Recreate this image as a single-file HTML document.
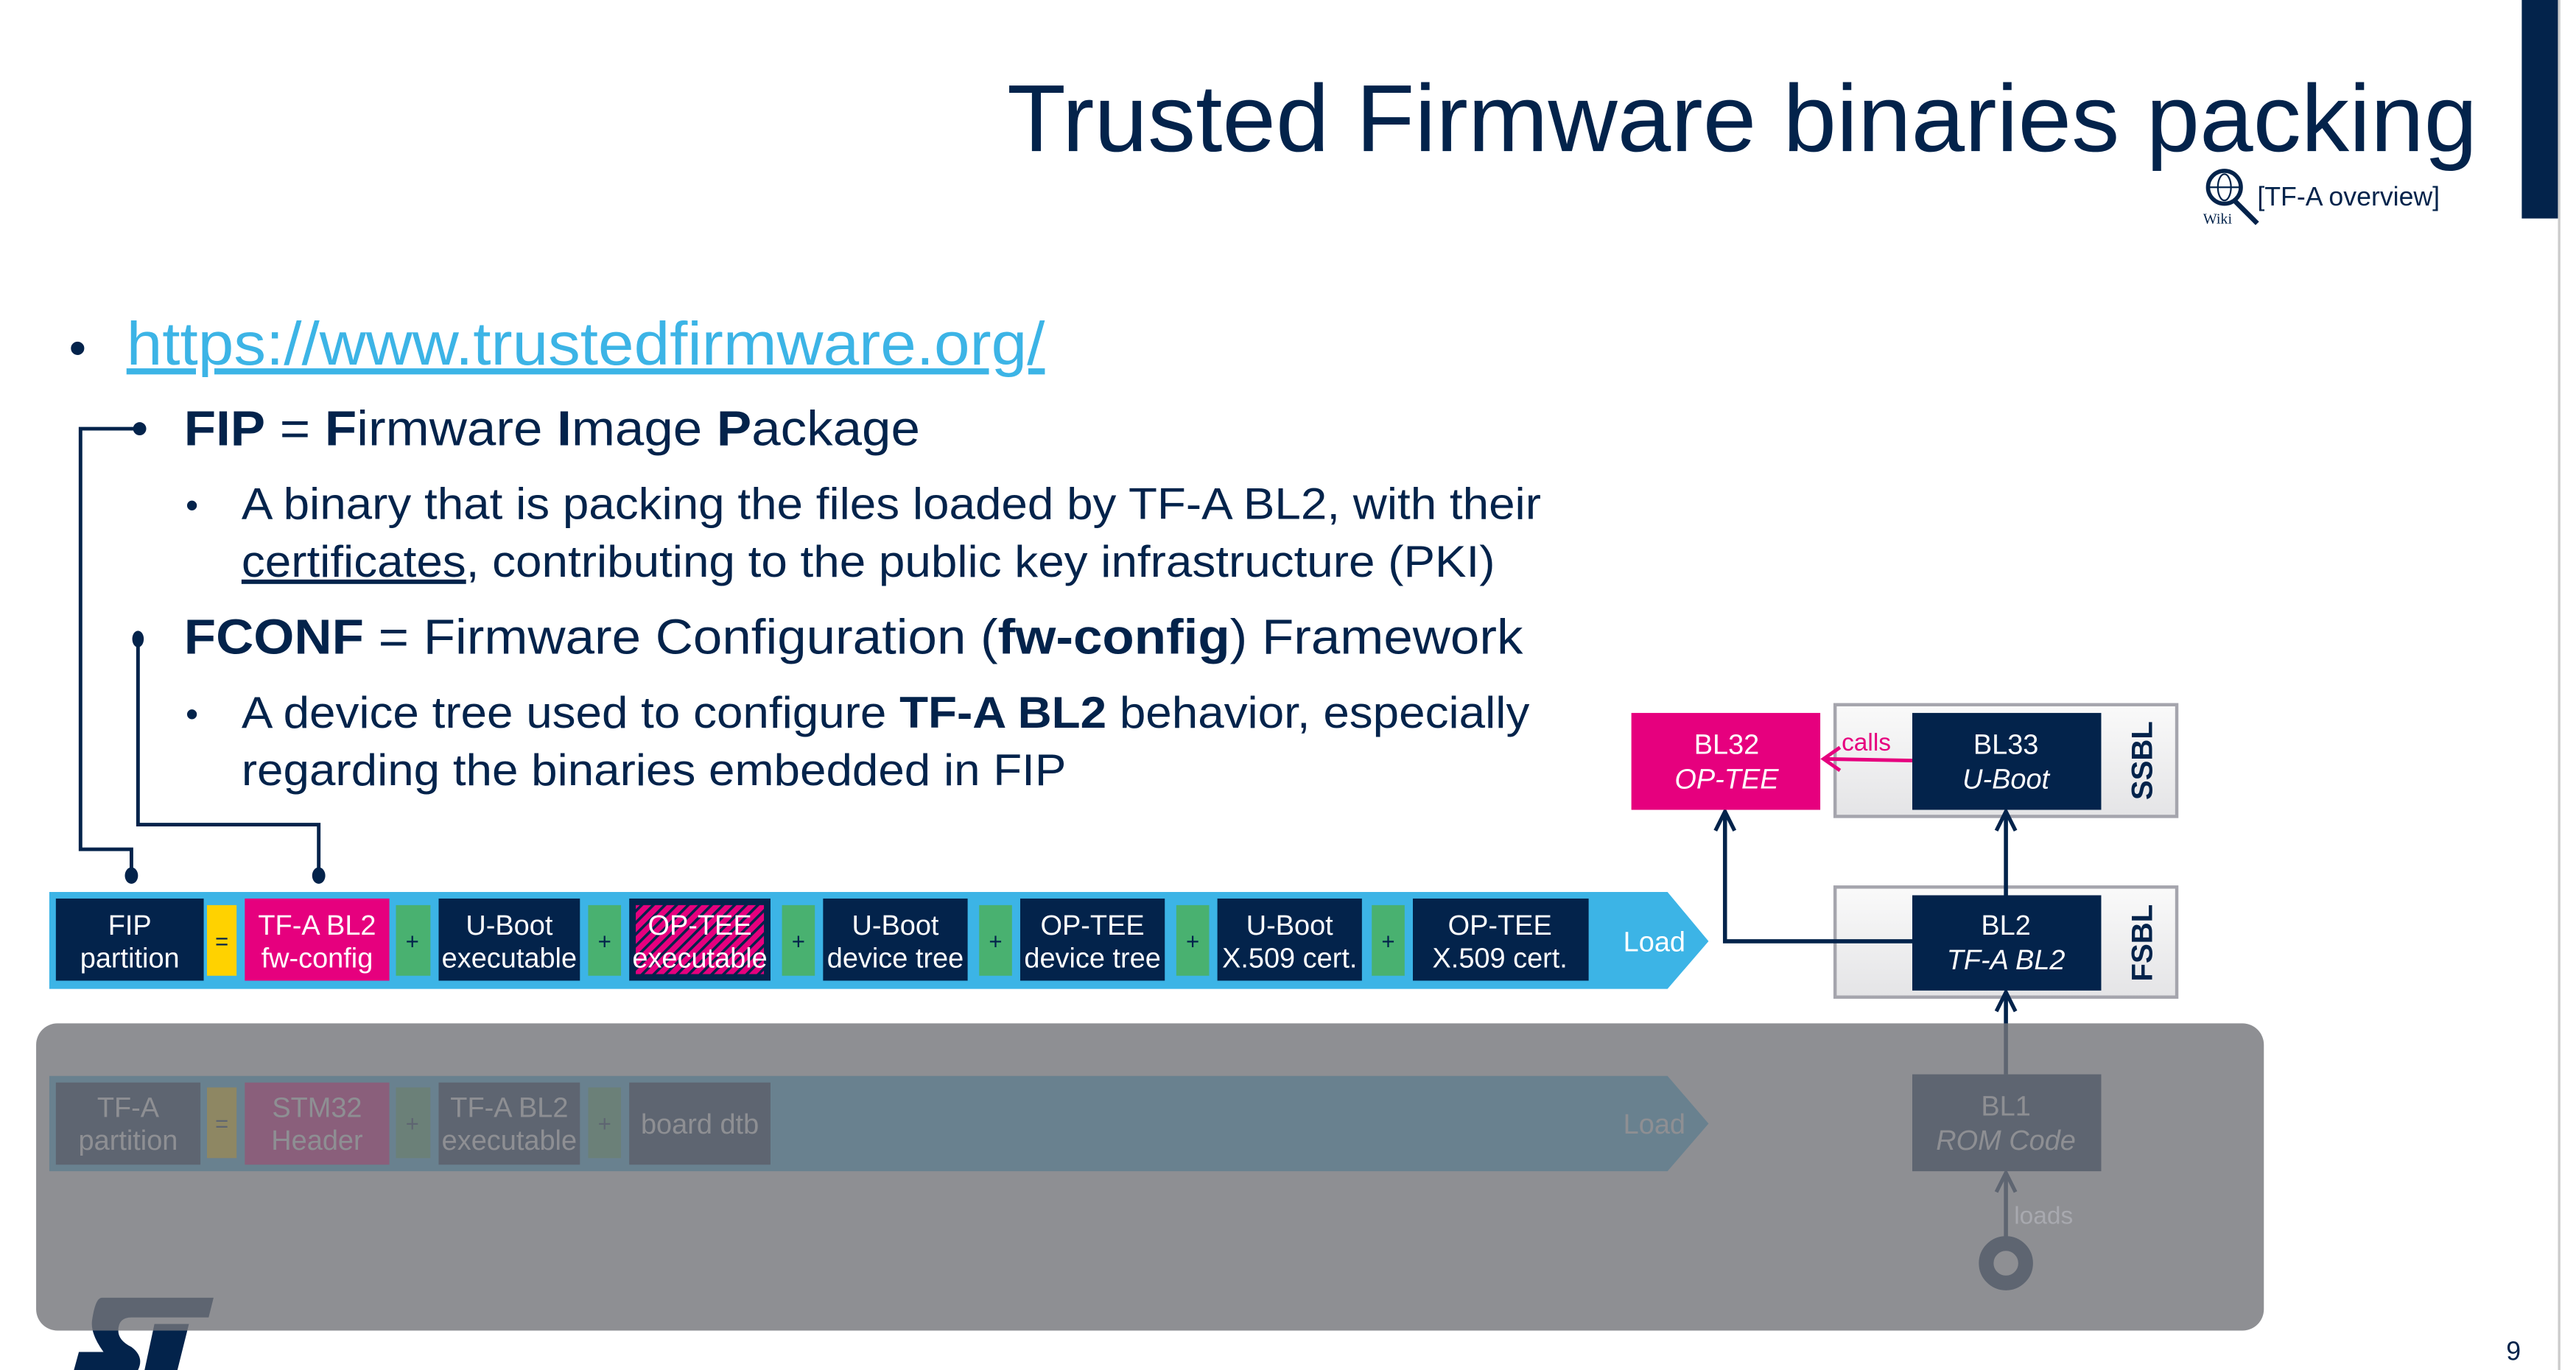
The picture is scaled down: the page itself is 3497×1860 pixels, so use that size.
<!DOCTYPE html>
<html><head><meta charset="utf-8"><style>html,body{margin:0;padding:0;background:#fff;}svg{display:block;}</style></head>
<body>
<svg xmlns="http://www.w3.org/2000/svg" width="3497" height="1860" viewBox="0 0 1568 834" font-family="Liberation Sans, Arial, sans-serif">
<defs>
<pattern id="hatch" width="5" height="5" patternUnits="userSpaceOnUse" patternTransform="rotate(45)">
<rect width="5" height="5" fill="#E6007E"/><rect width="1.6" height="5" fill="#03234B"/>
</pattern>
<linearGradient id="lg" x1="0" y1="0" x2="0" y2="1"><stop offset="0" stop-color="#fafafa"/><stop offset="1" stop-color="#e4e4e6"/></linearGradient>
<marker id="ah" markerWidth="14" markerHeight="14" refX="11" refY="6" orient="auto" markerUnits="userSpaceOnUse" viewBox="0 0 12 12"><path d="M1,1 L11,6 L1,11" fill="none" stroke="#03234B" stroke-width="2"/></marker>
</defs>
<rect width="1568" height="834" fill="#fff"/>
<rect x="1535" y="0" width="22" height="133" fill="#03234B"/>
<rect x="1557" y="0" width="1.5" height="834" fill="#ccc"/>
<text x="613" y="92" font-size="58" fill="#03234B" textLength="895" lengthAdjust="spacingAndGlyphs">Trusted Firmware binaries packing</text>
<g stroke="#03234B" fill="none" stroke-width="2.5"><circle cx="1354" cy="114" r="10"/><line x1="1360" y1="122" x2="1374" y2="136" stroke-width="3"/><ellipse cx="1354" cy="114" rx="4" ry="8" stroke-width="1"/><line x1="1345" y1="114" x2="1363" y2="114" stroke-width="1"/></g>
<text x="1341" y="136" font-size="9" font-family="Liberation Serif, serif" fill="#03234B">Wiki</text>
<text x="1374" y="125" font-size="16" fill="#03234B">[TF-A overview]</text>

<text x="42" y="222" font-size="30" fill="#03234B">•</text>
<text x="77" y="222" font-size="37" fill="#3CB4E6" text-decoration="underline" textLength="559" lengthAdjust="spacingAndGlyphs">https://www.trustedfirmware.org/</text>
<text x="112" y="271" font-size="30" fill="#03234B" textLength="448" lengthAdjust="spacingAndGlyphs"><tspan font-weight="bold">FIP</tspan> = <tspan font-weight="bold">F</tspan>irmware <tspan font-weight="bold">I</tspan>mage <tspan font-weight="bold">P</tspan>ackage</text>
<text x="113" y="315" font-size="22" fill="#03234B">•</text>
<text x="147" y="316" font-size="27" fill="#03234B" textLength="791" lengthAdjust="spacingAndGlyphs">A binary that is packing the files loaded by TF-A BL2, with their</text>
<text x="147" y="351" font-size="27" fill="#03234B" textLength="763" lengthAdjust="spacingAndGlyphs"><tspan text-decoration="underline">certificates</tspan>, contributing to the public key infrastructure (PKI)</text>
<text x="112" y="398" font-size="30" fill="#03234B" textLength="815" lengthAdjust="spacingAndGlyphs"><tspan font-weight="bold">FCONF</tspan> = Firmware Configuration (<tspan font-weight="bold">fw-config</tspan>) Framework</text>
<text x="113" y="442" font-size="22" fill="#03234B">•</text>
<text x="147" y="443" font-size="27" fill="#03234B" textLength="784" lengthAdjust="spacingAndGlyphs">A device tree used to configure <tspan font-weight="bold">TF-A BL2</tspan> behavior, especially</text>
<text x="147" y="478" font-size="27" fill="#03234B" textLength="502" lengthAdjust="spacingAndGlyphs">regarding the binaries embedded in FIP</text>

<g stroke="#03234B" stroke-width="2.2" fill="none">
<polyline points="85,261 49,261 49,517 80,517 80,530"/>
<polyline points="84,389 84,502 194,502 194,530"/>
</g>
<g fill="#03234B"><circle cx="85" cy="261" r="4"/><ellipse cx="84" cy="389" rx="3.5" ry="5"/><ellipse cx="80" cy="533" rx="4" ry="5"/><ellipse cx="194" cy="533" rx="4" ry="5"/></g>

<g font-size="17" fill="#fff" text-anchor="middle">
<polygon points="30,543 1015,543 1040,573 1015,602 30,602" fill="#3CB4E6"/>
<rect x="34" y="547" width="90" height="50" fill="#03234B"/><text x="79" y="569">FIP</text><text x="79" y="589">partition</text>
<rect x="126" y="551" width="18" height="43" fill="#FFD200"/><text x="135" y="578" fill="#03234B" font-size="14">=</text>
<rect x="149" y="547" width="88" height="50" fill="#E6007E"/><text x="193" y="569">TF-A BL2</text><text x="193" y="589">fw-config</text>
<rect x="241" y="551" width="21" height="43" fill="#49B170"/><text x="251" y="578" fill="#03234B" font-size="14">+</text>
<rect x="267" y="547" width="86" height="50" fill="#03234B"/><text x="310" y="569">U-Boot</text><text x="310" y="589">executable</text>
<rect x="358" y="551" width="20" height="43" fill="#49B170"/><text x="368" y="578" fill="#03234B" font-size="14">+</text>
<rect x="383" y="547" width="86" height="50" fill="#03234B"/><rect x="387" y="551" width="78" height="42" fill="url(#hatch)"/><text x="426" y="569">OP-TEE</text><text x="426" y="589">executable</text>
<rect x="476" y="551" width="20" height="43" fill="#49B170"/><text x="486" y="578" fill="#03234B" font-size="14">+</text>
<rect x="501" y="547" width="88" height="50" fill="#03234B"/><text x="545" y="569">U-Boot</text><text x="545" y="589">device tree</text>
<rect x="596" y="551" width="20" height="43" fill="#49B170"/><text x="606" y="578" fill="#03234B" font-size="14">+</text>
<rect x="621" y="547" width="88" height="50" fill="#03234B"/><text x="665" y="569">OP-TEE</text><text x="665" y="589">device tree</text>
<rect x="716" y="551" width="20" height="43" fill="#49B170"/><text x="726" y="578" fill="#03234B" font-size="14">+</text>
<rect x="741" y="547" width="88" height="50" fill="#03234B"/><text x="785" y="569">U-Boot</text><text x="785" y="589">X.509 cert.</text>
<rect x="835" y="551" width="20" height="43" fill="#49B170"/><text x="845" y="578" fill="#03234B" font-size="14">+</text>
<rect x="860" y="547" width="107" height="50" fill="#03234B"/><text x="913" y="569">OP-TEE</text><text x="913" y="589">X.509 cert.</text>
<text x="1007" y="579">Load</text>
</g>

<g font-size="17" fill="#fff" text-anchor="middle">
<polygon points="30,655 1015,655 1040,684 1015,713 30,713" fill="#3CB4E6"/>
<rect x="34" y="659" width="88" height="50" fill="#03234B"/><text x="78" y="680">TF-A</text><text x="78" y="700">partition</text>
<rect x="126" y="662" width="18" height="43" fill="#FFD200"/><text x="135" y="689" fill="#03234B" font-size="14">=</text>
<rect x="149" y="659" width="88" height="50" fill="#E6007E"/><text x="193" y="680">STM32</text><text x="193" y="700">Header</text>
<rect x="241" y="662" width="21" height="43" fill="#49B170"/><text x="251" y="689" fill="#03234B" font-size="14">+</text>
<rect x="267" y="659" width="86" height="50" fill="#03234B"/><text x="310" y="680">TF-A BL2</text><text x="310" y="700">executable</text>
<rect x="358" y="662" width="20" height="43" fill="#49B170"/><text x="368" y="689" fill="#03234B" font-size="14">+</text>
<rect x="383" y="659" width="86" height="50" fill="#03234B"/><text x="426" y="690">board dtb</text>
<text x="1007" y="690">Load</text>
</g>

<rect x="1117" y="540" width="208" height="67" fill="url(#lg)" stroke="#A5A5AD" stroke-width="2"/>
<rect x="1117" y="429" width="208" height="68" fill="url(#lg)" stroke="#A5A5AD" stroke-width="2"/>
<text transform="translate(1310,574) rotate(-90)" font-size="18" font-weight="bold" fill="#03234B" text-anchor="middle">FSBL</text>
<text transform="translate(1310,463) rotate(-90)" font-size="18" font-weight="bold" fill="#03234B" text-anchor="middle">SSBL</text>

<g stroke="#03234B" stroke-width="2.5" fill="none">
<line x1="1221" y1="654" x2="1221" y2="604" marker-end="url(#ah)"/>
<line x1="1221" y1="545" x2="1221" y2="494" marker-end="url(#ah)"/>
<polyline points="1164,573 1050,573 1050,494" marker-end="url(#ah)"/>
<line x1="1221" y1="757" x2="1221" y2="714" marker-end="url(#ah)"/>
</g>
<circle cx="1221" cy="769" r="12" fill="none" stroke="#03234B" stroke-width="9"/>

<g font-size="17" fill="#fff" text-anchor="middle">
<rect x="1164" y="545" width="115" height="58" fill="#03234B"/><text x="1221" y="569">BL2</text><text x="1221" y="590" font-style="italic">TF-A BL2</text>
<rect x="1164" y="434" width="115" height="59" fill="#03234B"/><text x="1221" y="459">BL33</text><text x="1221" y="480" font-style="italic">U-Boot</text>
<rect x="993" y="434" width="115" height="59" fill="#E6007E"/><text x="1051" y="459">BL32</text><text x="1051" y="480" font-style="italic">OP-TEE</text>
<rect x="1164" y="654" width="115" height="59" fill="#03234B"/><text x="1221" y="679">BL1</text><text x="1221" y="700" font-style="italic">ROM Code</text>
</g>
<line x1="1164" y1="463" x2="1111" y2="462" stroke="#E6007E" stroke-width="2.2"/>
<path d="M1120,455 L1110,462 L1120,469" fill="none" stroke="#E6007E" stroke-width="2.2"/>
<text x="1121" y="457" font-size="15" fill="#E6007E">calls</text>

<path d="M62,790 L130,790 L127,802 L80,802 Q72,802 72,810 Q72,816 80,820 Q88,826 84,834 L45,834 L48,823 L63,823 Q55,812 56,804 Q58,790 62,790 Z M94,806 L115,806 L108,834 L88,834 Z" fill="#03234B"/>

<rect x="22" y="623" width="1356" height="187" rx="13" fill="rgb(116,117,122)" fill-opacity="0.81"/>
<text x="1226" y="745" font-size="15" fill="#A8A9AF">loads</text>
<text x="1530" y="828" font-size="16" fill="#03234B" text-anchor="middle">9</text>
</svg>
</body></html>
